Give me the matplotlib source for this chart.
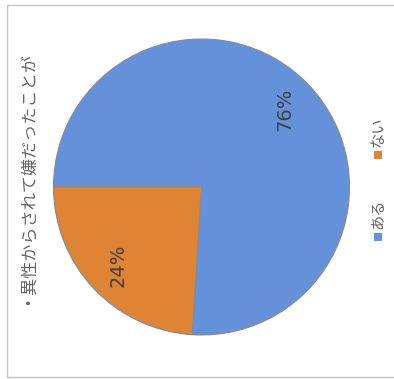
import matplotlib
matplotlib.use("Agg")
import matplotlib.pyplot as plt
from matplotlib.patches import Rectangle
import numpy as np

plt.rcParams['font.family'] = ['Noto Sans CJK JP', 'DejaVu Sans']

title = "・異性からされて嫌だったことが"
categories = ["ある", "ない"]
values = [76, 24]
colors = ["#6591DB", "#DE8434"]

W, H = 394, 379
fig = plt.figure(figsize=(W / 100, H / 100), dpi=100)

# outer frame of the chart area
fig.add_artist(Rectangle((7 / W, 1 - 377 / H), (W + 5 - 7) / W, (377 - 5) / H,
                         transform=fig.transFigure, fill=False,
                         edgecolor="#C4C4C4", linewidth=1.0))

# pie, turned a quarter turn to the left
cx, cy, r = 201.5, 187, 148
ax = fig.add_axes([(cx - r) / W, (H - cy - r) / H, 2 * r / W, 2 * r / H])
wedges, _ = ax.pie(values, colors=colors, startangle=180, counterclock=False,
                   radius=1.0,
                   wedgeprops=dict(edgecolor="#8A8A8A", linewidth=0.8))
ax.set_xlim(-1, 1)
ax.set_ylim(-1, 1)
ax.set_aspect("equal")
ax.axis("off")

# percentage labels, placed along each wedge's middle angle
start = 180.0
label_r = 0.77
for v in values:
    mid = start - v * 3.6 / 2
    start -= v * 3.6
    ax.text(label_r * np.cos(np.radians(mid)), label_r * np.sin(np.radians(mid)),
            f"{v}%", rotation=90, ha="center", va="center",
            fontsize=14, color="#404040", family=["DejaVu Sans"])

# title, running upward along the left side
fig.text(25 / W, 1 - 177 / H, title, rotation=90, ha="center", va="center",
         fontsize=12.3, color="#666666")

# legend, rotated along the right side
legend_y = [237, 155]
for cat, col, ly in zip(categories, colors, legend_y):
    s = 8.5
    fig.add_artist(Rectangle(((378 - s / 2) / W, 1 - (ly + s / 2) / H), s / W, s / H,
                             transform=fig.transFigure, facecolor=col,
                             edgecolor="none"))
    fig.text(378 / W, 1 - (ly - 8) / H, cat, rotation=90, ha="center", va="bottom",
             fontsize=11, color="#666666")

fig.savefig("out.png", dpi=100, facecolor="white")
